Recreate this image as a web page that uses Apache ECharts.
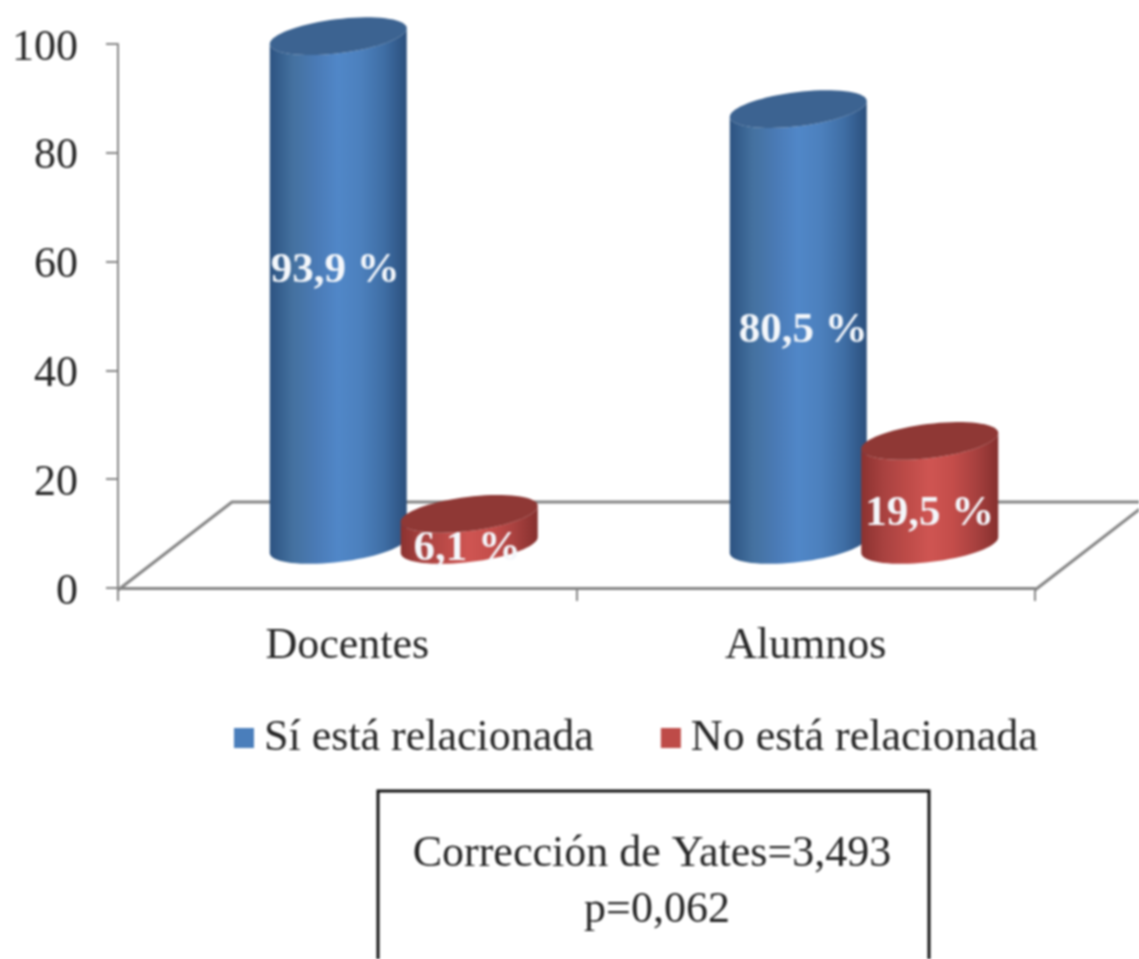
<!DOCTYPE html>
<html>
<head>
<meta charset="utf-8">
<style>
html,body{margin:0;padding:0;background:#fff;}
#chart{width:1139px;height:959px;filter:blur(0.9px);}
</style>
<script src="https://cdn.jsdelivr.net/npm/echarts@6/dist/echarts.min.js"></script>
</head>
<body>
<div id="chart"></div>
<script>
// ---- data ----
const categories = ['Docentes', 'Alumnos'];
const siValues = [93.9, 80.5];
const noValues = [6.1, 19.5];
const seriesNames = ['Sí está relacionada', 'No está relacionada'];
const yTicks = { min: 0, max: 100, interval: 20 };
const boxLines = ['Corrección de Yates=3,493', 'p=0,062'];

// ---- layout / style ----
const FONT = '"Liberation Serif","Times New Roman",serif';
const AXIS = '#858585';
const TEXT = '#262626';
const HALF_W = 69, RY = 17, TILT = -7 * Math.PI / 180;
const TOP_LIFT = 41, BASE_LIFT = 43;
const SERIES_DX = [[-9, -7.5], [122, 124]];
const LABEL_SHIFT = [[[-3, -20], [5, 4]], [[-2, 19], [0, 21]]];
const BODY = [
  ['#2c5281', '#44719f', '#4a7ab5', '#5087c8', '#4c80bd', '#3f6ea5', '#2b4f7c'],
  ['#8b3230', '#a94240', '#bd4b48', '#cf5552', '#c44d4a', '#a8413f', '#85302e']
];
const LID = ['#3c6391', '#8f3835'];
const LEGEND = ['#4a7ebb', '#be4b48'];

function ellipsePoint(cx, cy, a, b, t) {
  const x = a * Math.cos(t), y = b * Math.sin(t);
  return [cx + x * Math.cos(TILT) - y * Math.sin(TILT), cy + x * Math.sin(TILT) + y * Math.cos(TILT)];
}

function cylinder(seriesIdx) {
  return function (params, api) {
    const i = params.dataIndex;
    const value = api.value(1);
    const p = api.coord([api.value(0), value]);
    const p0 = api.coord([api.value(0), 0]);
    const cx = p[0] + SERIES_DX[seriesIdx][i];
    const top = p[1] - TOP_LIFT;
    const base = p0[1] - BASE_LIFT;

    const lid = [], bottom = [];
    for (let k = 0; k < 72; k++) lid.push(ellipsePoint(cx, top, HALF_W, RY, k / 72 * 2 * Math.PI));
    for (let k = 0; k <= 36; k++) bottom.push(ellipsePoint(cx, base, HALF_W, RY, k / 36 * Math.PI));
    const upper = [];
    for (let k = 36; k >= 0; k--) upper.push(ellipsePoint(cx, top, HALF_W, RY, k / 36 * Math.PI));

    const stops = BODY[seriesIdx].map((c, n, arr) => ({ offset: n / (arr.length - 1), color: c }));
    const shift = LABEL_SHIFT[seriesIdx][i];
    return {
      type: 'group',
      children: [
        { type: 'polygon', shape: { points: bottom.concat(upper) },
          style: { fill: new echarts.graphic.LinearGradient(0, 0, 1, 0, stops) } },
        { type: 'polygon', shape: { points: lid }, style: { fill: LID[seriesIdx] } },
        { type: 'text', style: {
            text: value.toFixed(1).replace('.', ',') + ' %',
            x: cx + shift[0], y: (top + base) / 2 + shift[1],
            align: 'center', verticalAlign: 'middle',
            fill: '#f4f7fb', font: 'bold 43px ' + FONT } }
      ]
    };
  };
}

const chart = echarts.init(document.getElementById('chart'));
chart.setOption({
  backgroundColor: '#ffffff',
  animation: false,
  grid: { left: 118, right: 104, top: 44, bottom: 371 },
  legend: {
    left: 229, top: 711,
    itemWidth: 20, itemHeight: 20, itemGap: 67,
    icon: 'rect',
    data: seriesNames,
    textStyle: { fontFamily: FONT, fontSize: 44, color: TEXT, padding: [0, 0, 0, 5] }
  },
  xAxis: {
    type: 'category',
    data: categories,
    axisLine: { lineStyle: { color: AXIS, width: 3 } },
    axisTick: { show: true, length: 13, alignWithLabel: false, lineStyle: { color: AXIS, width: 2 } },
    axisLabel: { fontFamily: FONT, fontSize: 44, color: TEXT, margin: 36 }
  },
  yAxis: {
    type: 'value',
    min: yTicks.min, max: yTicks.max, interval: yTicks.interval,
    splitLine: { show: false },
    axisLine: { show: true, lineStyle: { color: AXIS, width: 2 } },
    axisTick: { show: true, length: 12, lineStyle: { color: AXIS, width: 2 } },
    axisLabel: {
      margin: 40,
      formatter: '{t|{value}}',
      rich: { t: { fontFamily: FONT, fontSize: 44, color: TEXT, padding: [8, 0, 0, 0] } }
    }
  },
  graphic: [
    { type: 'polyline', z: 1, shape: { points: [[118, 590], [232, 502], [1145, 502]] },
      style: { stroke: AXIS, lineWidth: 3, fill: null } },
    { type: 'polyline', z: 1, shape: { points: [[1035, 590], [1145, 505]] },
      style: { stroke: AXIS, lineWidth: 3, fill: null } },
    { type: 'rect', z: 1, shape: { x: 378, y: 791, width: 551, height: 190 },
      style: { stroke: '#111', lineWidth: 3, fill: '#fff' } },
    { type: 'text', z: 2, style: { text: boxLines[0], x: 652, y: 854, align: 'center', verticalAlign: 'middle',
        font: '44px ' + FONT, fill: TEXT } },
    { type: 'text', z: 2, style: { text: boxLines[1], x: 657, y: 910, align: 'center', verticalAlign: 'middle',
        font: '44px ' + FONT, fill: TEXT } }
  ],
  series: [
    { type: 'custom', name: seriesNames[0], z: 5, renderItem: cylinder(0),
      itemStyle: { color: LEGEND[0] }, encode: { x: 0, y: 1 },
      data: siValues.map((v, i) => [i, v]) },
    { type: 'custom', name: seriesNames[1], z: 6, renderItem: cylinder(1),
      itemStyle: { color: LEGEND[1] }, encode: { x: 0, y: 1 },
      data: noValues.map((v, i) => [i, v]) }
  ]
});
</script>
</body>
</html>
